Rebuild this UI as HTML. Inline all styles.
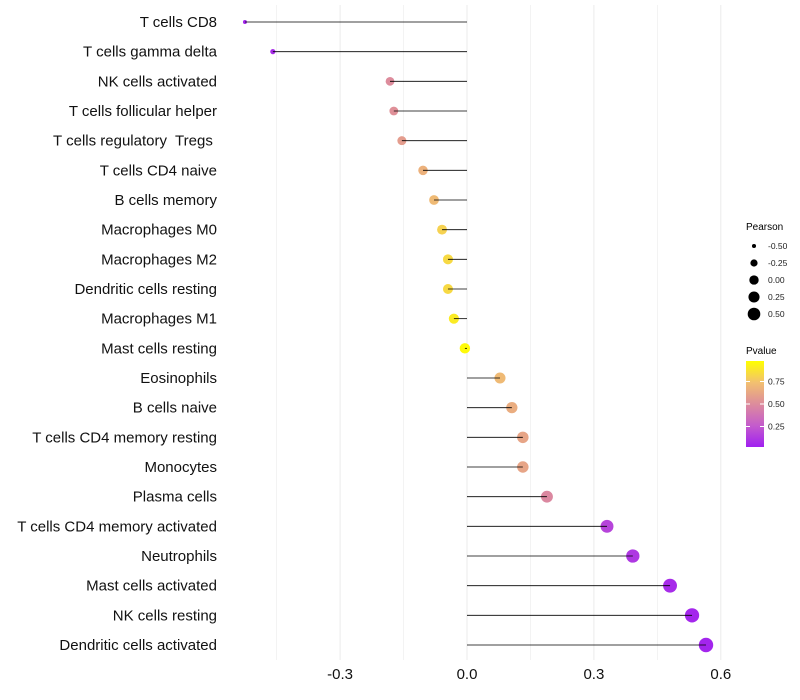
<!DOCTYPE html>
<html><head><meta charset="utf-8"><style>
body{margin:0;background:#fff}
svg{display:block;font-family:"Liberation Sans",sans-serif}
</style></head><body>
<svg id="c" width="800" height="700">
<defs><linearGradient id="pg" x1="0" y1="1" x2="0" y2="0">
<stop offset="0" stop-color="#a020f0"/><stop offset="0.25" stop-color="#c45ccc"/>
<stop offset="0.5" stop-color="#dd8c9c"/><stop offset="0.75" stop-color="#f2c070"/>
<stop offset="1" stop-color="#ffff00"/></linearGradient></defs>
<g id="grid"></g><g id="marks"></g><g id="stems"></g><g id="labels"></g><g id="xt"></g>
<g id="legend">
<text x="746" y="230" font-size="10">Pearson</text>
<text x="746" y="354" font-size="10">Pvalue</text>
<rect x="746" y="361" width="18" height="86" fill="url(#pg)"/>
<g id="cbt"></g><g id="sizeleg"></g>
</g>
</svg>
<script>
const categories=["T cells CD8","T cells gamma delta","NK cells activated","T cells follicular helper","T cells regulatory  Tregs ","T cells CD4 naive","B cells memory","Macrophages M0","Macrophages M2","Dendritic cells resting","Macrophages M1","Mast cells resting","Eosinophils","B cells naive","T cells CD4 memory resting","Monocytes","Plasma cells","T cells CD4 memory activated","Neutrophils","Mast cells activated","NK cells resting","Dendritic cells activated"];
const pearson=[-0.525,-0.459,-0.182,-0.173,-0.154,-0.104,-0.078,-0.059,-0.045,-0.045,-0.031,-0.005,0.078,0.106,0.132,0.132,0.189,0.331,0.392,0.48,0.532,0.565];
const pvalue=[0.02,0.05,0.5,0.52,0.58,0.68,0.72,0.82,0.85,0.85,0.92,0.98,0.72,0.66,0.62,0.62,0.48,0.15,0.1,0.05,0.03,0.02];
const xTicks=[-0.3,0,0.3,0.6];
const xTickLabels=["-0.3","0.0","0.3","0.6"];
const sizeLegend=[-0.5,-0.25,0,0.25,0.5];
const sizeLegendLabels=["-0.50","-0.25","0.00","0.25","0.50"];
const cbTicks=[0.25,0.5,0.75];
const cbLabels=["0.25","0.50","0.75"];
const NS="http://www.w3.org/2000/svg";
const X=v=>467+v*423;
const Y=i=>22+i*(623/21);
const R=v=>Math.sqrt(4+(v+0.525)*44);
const CB=v=>449-v*90;
function lerp(a,b,t){return a+(b-a)*t}
const stops=[[0,[160,32,240]],[0.25,[196,92,204]],[0.5,[221,140,156]],[0.75,[242,192,112]],[1,[255,255,0]]];
function col(p){for(let k=0;k<4;k++){const [a,ca]=stops[k],[b,cb]=stops[k+1];if(p<=b){const t=(p-a)/(b-a);return `rgb(${ca.map((c,j)=>Math.round(lerp(c,cb[j],t))).join(',')})`}}return 'rgb(255,255,0)'}
function mk(t,a,p){const e=document.createElementNS(NS,t);for(const k in a)e.setAttribute(k,a[k]);(p).appendChild(e);return e}
const g=document.getElementById('grid'),m=document.getElementById('marks'),st=document.getElementById('stems'),l=document.getElementById('labels'),xt=document.getElementById('xt');
[-0.45,-0.15,0.15,0.45].concat(xTicks).forEach(v=>{const e=mk('line',{x1:X(v),x2:X(v),y1:5,y2:660,stroke:'#ebebeb','stroke-width':xTicks.includes(v)?1:0.6},g);

});
categories.forEach((c,i)=>{
const y=Y(i);
const d=mk('circle',{cx:X(pearson[i]),cy:y,r:R(pearson[i]),fill:col(pvalue[i])},m);


const s=mk('line',{x1:X(0),x2:X(pearson[i]),y1:y,y2:y,stroke:'#000','stroke-width':0.8},st);


const t=mk('text',{x:217,y:y+5,'text-anchor':'end','font-size':15,fill:'#111'},l);
t.setAttribute('xml:space','preserve');t.style.whiteSpace='pre';t.textContent=c;


});
xTicks.forEach((v,i)=>{const t=mk('text',{x:X(v),y:679,'text-anchor':'middle','font-size':15,fill:'#111'},xt);t.textContent=xTickLabels[i];

});
const cbt=document.getElementById('cbt');
cbTicks.forEach((v,i)=>{mk('line',{x1:746,x2:750,y1:CB(v),y2:CB(v),stroke:'#fff'},cbt);mk('line',{x1:760,x2:764,y1:CB(v),y2:CB(v),stroke:'#fff'},cbt);
const t=mk('text',{x:768,y:CB(v)+3,'font-size':8.5,fill:'#222'},cbt);t.textContent=cbLabels[i];

});
const sl=document.getElementById('sizeleg');
sizeLegend.forEach((v,i)=>{const y=246+i*17;const c=mk('circle',{cx:754,cy:y,r:R(v)*0.9,fill:'#000'},sl);


const t=mk('text',{x:768,y:y+3,'font-size':8.5,fill:'#222'},sl);t.textContent=sizeLegendLabels[i];

});
</script>
</body></html>
